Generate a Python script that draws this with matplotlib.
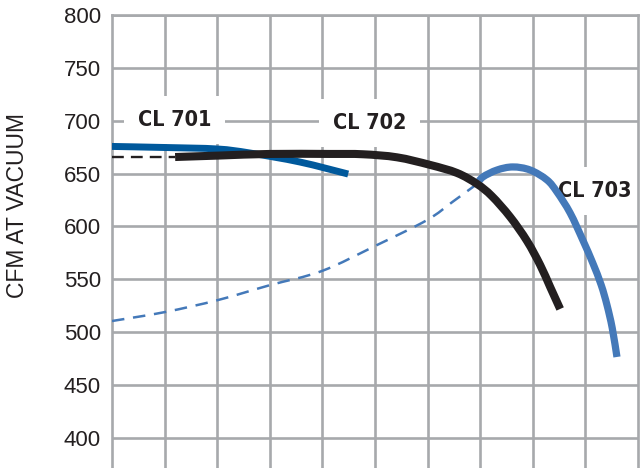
import numpy as np
import matplotlib.pyplot as plt
from matplotlib.path import Path
from matplotlib.patches import PathPatch

# CL 701 (dark blue)
cl701_x = [0.0, 1.0, 2.0, 2.62, 3.57, 4.49]
cl701_y = [675.7, 674.7, 673.3, 669.5, 661.0, 649.6]

# CL 702 (black) - dashed extension and solid curve
cl702_dash_x = [0.0, 1.2]
cl702_dash_y = [665.7, 665.7]
cl702_x = [1.2, 2.05, 3.0, 4.14, 4.77, 5.42, 6.05, 6.56, 6.94, 7.22, 7.57, 7.89, 8.14, 8.33, 8.52]
cl702_y = [665.7, 667.1, 668.6, 668.6, 668.3, 665.4, 658.2, 650.6, 640.2, 628.8, 609.0, 586.3, 563.6, 542.8, 522.0]

# CL 703 (light blue) - dashed extension and solid curve
cl703_dash_x = [0.0, 1.01, 2.02, 3.0, 3.99, 5.04, 5.99, 6.48, 6.94]
cl703_dash_y = [510.6, 519.1, 530.5, 544.5, 557.9, 582.5, 606.1, 623.5, 640.2]
cl703_x = [6.94, 7.05, 7.32, 7.62, 7.95, 8.27, 8.46, 8.71, 8.95, 9.14, 9.3, 9.41, 9.51, 9.6]
cl703_y = [640.2, 646.8, 653.4, 656.3, 653.4, 644.0, 632.6, 612.8, 587.2, 565.5, 544.7, 525.8, 504.0, 476.6]

y_ticks = [400, 450, 500, 550, 600, 650, 700, 750, 800]
labels = ['CL 701', 'CL 702', 'CL 703']

grid_col = '#a7a9ac'
text_col = '#231f20'


def smooth_path(xs, ys):
    # catmull-rom through the points, as cubic bezier segments
    p = np.column_stack([xs, ys]).astype(float)
    verts = [p[0]]
    codes = [Path.MOVETO]
    for i in range(len(p) - 1):
        p0 = p[max(i - 1, 0)]
        p1, p2 = p[i], p[i + 1]
        p3 = p[min(i + 2, len(p) - 1)]
        verts += [p1 + (p2 - p0) / 6, p2 - (p3 - p1) / 6, p2]
        codes += [Path.CURVE4] * 3
    return Path(verts, codes)


def draw_curve(ax, xs, ys, **kw):
    ax.add_patch(PathPatch(smooth_path(xs, ys), fill=False, capstyle='butt',
                           joinstyle='round', **kw))


fig = plt.figure(figsize=(6.44, 4.68), dpi=100)
ax = fig.add_axes([112 / 644, 0, 526 / 644, 1 - 15 / 468])
ax.set_xlim(0, 10)
ax.set_ylim(371.6, 800)

ax.set_yticks(y_ticks)
ax.set_xticks(np.arange(1, 10))
ax.set_xticklabels([])
ax.grid(True, color=grid_col, linewidth=1.9)
ax.set_axisbelow(True)
ax.tick_params(length=0, pad=8, labelsize=16, labelcolor=text_col)
for lab in ax.get_yticklabels():
    lab.set_fontfamily('Liberation Sans')
for side in ['left', 'top', 'right']:
    ax.spines[side].set_color(grid_col)
    ax.spines[side].set_linewidth(1.9)
ax.spines['bottom'].set_visible(False)

draw_curve(ax, cl703_dash_x, cl703_dash_y, ec='#4479b9', lw=1.8,
           linestyle=(0, (5, 3.5)), zorder=3)
draw_curve(ax, cl702_dash_x, cl702_dash_y, ec=text_col, lw=1.7,
           linestyle=(0, (5, 3)), zorder=3)
draw_curve(ax, cl701_x, cl701_y, ec='#00599c', lw=5, zorder=4)
draw_curve(ax, cl702_x, cl702_y, ec=text_col, lw=5.8, zorder=5)
draw_curve(ax, cl703_x, cl703_y, ec='#4479b9', lw=5.2, zorder=4)

label_pos = [(1.19, 700.7), (4.9, 697.9), (9.17, 633.1)]
for txt, (lx, ly) in zip(labels, label_pos):
    ax.text(lx, ly, txt, ha='center', va='center', fontsize=15.5, fontweight='bold',
            fontstretch='condensed', family='DejaVu Sans', color=text_col, zorder=2,
            bbox=dict(boxstyle='square,pad=0.65', fc='white', ec='none'))

fig.text(17.5 / 644, 1 - 206 / 468, 'CFM AT VACUUM', rotation=90, ha='center', va='center',
         fontsize=16.5, color=text_col, family='Liberation Sans')

fig.savefig('out.png', dpi=100)
plt.close(fig)
